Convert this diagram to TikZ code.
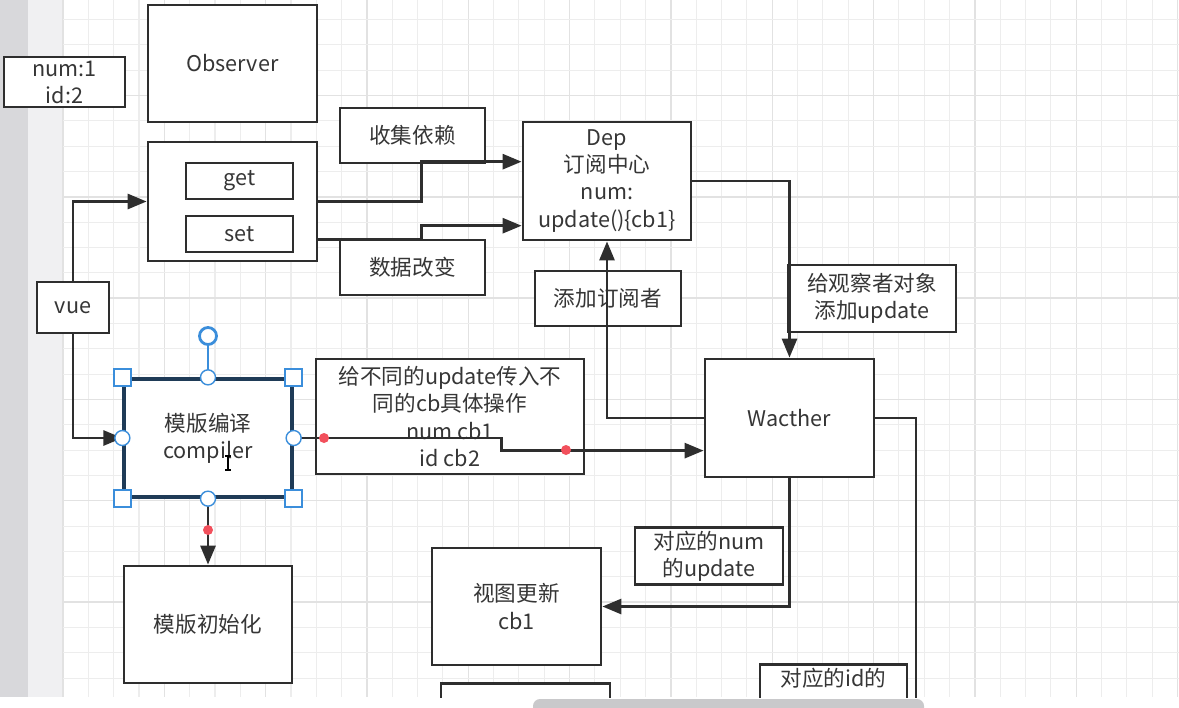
\documentclass[tikz,border=0pt]{standalone}
\usepackage{fontspec}
\usepackage{xcolor}
\usepackage{tikz}
\usetikzlibrary{positioning,arrows.meta,calc}
\newfontfamily\cjk{Noto Sans CJK SC}
\definecolor{lineC}{HTML}{2E2E2E}
\definecolor{textC}{HTML}{363636}
\definecolor{selBlue}{HTML}{3B8EDB}
\definecolor{selDark}{HTML}{1F3B57}
\definecolor{dotRed}{HTML}{F2505C}
\definecolor{gridMinor}{HTML}{EDEDED}
\definecolor{gridMajor}{HTML}{E2E2E2}
\definecolor{sideDark}{HTML}{D8D8DB}
\definecolor{sideLight}{HTML}{F0F0F2}
\definecolor{scrollC}{HTML}{C9C9CB}

\begin{document}
\begin{tikzpicture}[x=0.02cm,y=-0.02cm,
    font=\cjk\fontsize{12.3pt}{15.4pt}\selectfont,
    box/.style={draw=lineC,line width=1.6pt,fill=white,text=textC,align=center,inner sep=2pt},
    arr/.style={draw=lineC,line width=1.6pt,-{Triangle[length=0.38cm,width=0.3cm]}},
    link/.style={draw=lineC,line width=1.6pt},
    dot/.style={circle,fill=dotRed,inner sep=0pt,minimum size=0.2cm},
    handlesq/.style={draw=selBlue,fill=white,line width=0.8pt,minimum size=0.34cm,inner sep=0pt},
    handlec/.style={circle,draw=selBlue,fill=white,line width=0.8pt,minimum size=0.3cm,inner sep=0pt}]
    \useasboundingbox (0,0) rectangle (1179,707);
    % canvas
    \fill[white] (0,0) rectangle (1179,707);
    \fill[sideDark] (0,0) rectangle (28,697);
    \fill[sideLight] (28,0) rectangle (63,697);
    \foreach \k in {0,...,44} {
      \pgfmathtruncatemacro{\m}{mod(\k,4)}
      \ifnum\m=0
        \draw[gridMajor,line width=0.8pt] ({63+25.33*\k},0) -- ({63+25.33*\k},697);
      \else
        \draw[gridMinor,line width=0.6pt] ({63+25.33*\k},0) -- ({63+25.33*\k},697);
      \fi
    }
    \foreach \j in {0,...,26} {
      \pgfmathtruncatemacro{\m}{mod(\j,4)}
      \ifnum\m=3
        \draw[gridMajor,line width=0.8pt] (63,{19.5+25.33*\j}) -- (1179,{19.5+25.33*\j});
      \else
        \draw[gridMinor,line width=0.6pt] (63,{19.5+25.33*\j}) -- (1179,{19.5+25.33*\j});
      \fi
    }

    % boxes
    \node[box,minimum width=3.38cm,minimum height=2.34cm] (observer) at (232.5,63.5) {Observer};
    \node[box,minimum width=2.42cm,minimum height=1.0cm] (data) at (64.5,82) {num:1\\id:2};
    \node[box,minimum width=3.38cm,minimum height=2.38cm] (getset) at (232.5,201.5) {};
    \node[box,minimum width=2.14cm,minimum height=0.72cm] (get) at (239.5,181) {get};
    \node[box,minimum width=2.14cm,minimum height=0.72cm] (set) at (239.5,234) {set};
    \node[box,minimum width=2.9cm,minimum height=1.1cm] (collect) at (412.5,135.5) {收集依赖};
    \node[box,minimum width=2.9cm,minimum height=1.1cm] (change) at (412.5,267.5) {数据改变};
    \node[box,minimum width=3.36cm,minimum height=2.36cm] (dep) at (607,181) {Dep\\订阅中心\\num:\\update()\{cb1\}};
    \node[box,minimum width=2.92cm,minimum height=1.1cm] (addsub) at (608,298.5) {添加订阅者};
    \node[box,minimum width=3.36cm,minimum height=1.34cm] (addupd) at (872,298.5) {给观察者对象\\添加update};
    \node[box,minimum width=1.44cm,minimum height=1.02cm] (vue) at (73,307.5) {vue};
    \node[box,draw=selDark,line width=1.9pt,minimum width=3.36cm,minimum height=2.36cm] (compiler) at (208,438) {模版编译\\compiler};
    \node[box,minimum width=5.36cm,minimum height=2.3cm] (passcb) at (450,416.5) {给不同的update传入不\\同的cb具体操作\\num cb1\\id cb2};
    \node[box,minimum width=3.38cm,minimum height=2.36cm] (watcher) at (789.5,418) {Wacther};
    \node[box,minimum width=3.36cm,minimum height=2.34cm] (tplinit) at (208,624.5) {模版初始化};
    \node[box,minimum width=3.38cm,minimum height=2.34cm] (viewupd) at (516.5,606.5) {视图更新\\cb1};
    \node[box,minimum width=2.96cm,minimum height=1.04cm] (numupd) at (709,556) {对应的num\\的update};

    % anchors on the left of dep and watcher
    \coordinate (depin1) at ($(dep.north west)!0.34!(dep.south west)$);
    \coordinate (depin2) at ($(dep.north west)!0.87!(dep.south west)$);
    \coordinate (setout) at ($(getset.north east)!0.81!(getset.south east)$);
    \coordinate (watin) at ($(watcher.north west)!0.77!(watcher.south west)$);
    \coordinate (idend) at (916,720);

    % connectors
    \draw[arr] (vue.north) |- (getset.west);
    \draw[arr] (vue.south) |- (compiler.west);
    \draw[arr] (getset.east) -- ++(103,0) |- (depin1);
    \draw[arr] (setout) -- ++(103,0) |- (depin2);
    \draw[arr] (dep.east) -| (watcher.north);
    \draw[arr] (watcher.west) -| (dep.south);
    \draw[arr] (compiler.east) -- ++(208,0) |- (watin);
    \draw[arr] (compiler.south) -- (tplinit.north);
    \draw[arr] (watcher.south) |- (viewupd.east);

    % cut by the bottom of the window
    \begin{scope}
      \clip (0,0) rectangle (1179,697);
      \node[box,minimum width=2.94cm,minimum height=1.2cm] (idupd) at (833.5,695) {对应的id的\\\strut};
      \node[box,minimum width=3.38cm,minimum height=2.34cm] (lowbox) at (525.5,742) {};
      \draw[link] (watcher.east) -- (watcher.east -| idend) -- (idend);
    \end{scope}

    % red points
    \node[dot] (dot1) at (324,438) {};
    \node[dot] (dot2) at (566,450) {};
    \node[dot] (dot3) at (208,530) {};

    % selection handles
    \node[circle,draw=selBlue,fill=white,line width=1.6pt,minimum size=0.34cm,inner sep=0pt] (rot) at (208,336) {};
    \draw[selBlue,line width=1pt] (rot) -- (compiler.north);
    \foreach \a in {north west,north east,south west,south east}
      \node[handlesq] at (compiler.\a) {};
    \foreach \a in {north,south,east,west}
      \node[handlec] at (compiler.\a) {};

    % text cursor
    \draw[black,line width=0.6pt] (225,456) -- (231,456) (228,456) -- (228,470) (225,470) -- (231,470);

    % scroll bar
    \fill[scrollC,rounded corners=4] (533,699) rectangle (924,715);
  \end{tikzpicture}
\end{document}
